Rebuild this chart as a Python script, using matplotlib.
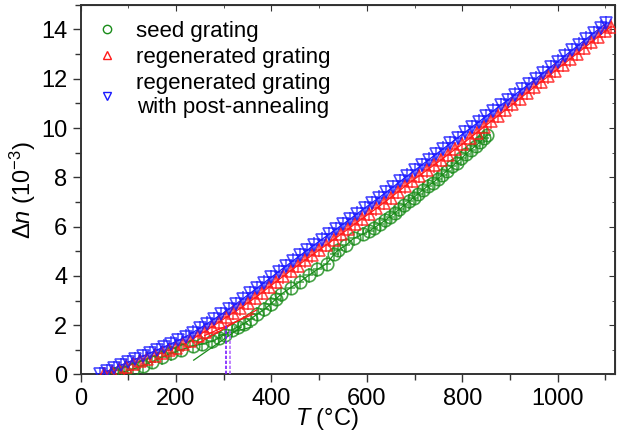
import numpy as np
import matplotlib
matplotlib.use('Agg')
import matplotlib.pyplot as plt
from matplotlib.lines import Line2D
from matplotlib.ticker import MultipleLocator

plt.rcParams['font.family'] = ['Liberation Sans', 'DejaVu Sans']
plt.rcParams['mathtext.fontset'] = 'custom'
plt.rcParams['mathtext.rm'] = 'Liberation Sans'
plt.rcParams['mathtext.it'] = 'Liberation Sans:italic'

# seed grating
seed_T = [72, 90, 110, 130, 150, 170, 190, 210, 235, 255, 275, 290, 302, 318, 330,
          342, 357, 370, 385, 398, 410, 420, 440, 460, 478, 496, 516, 532, 540, 556,
          572, 592, 605, 615, 627, 638, 648, 658, 668, 678, 688, 698, 708, 718, 728,
          738, 748, 758, 768, 778, 788, 798, 808, 818, 828, 838, 846, 852]
seed_dn = [0.00, 0.10, 0.22, 0.36, 0.52, 0.70, 0.86, 1.00, 1.15, 1.24, 1.34, 1.48, 1.62, 1.82, 1.92,
           2.06, 2.25, 2.45, 2.64, 2.85, 3.08, 3.25, 3.52, 3.77, 4.02, 4.26, 4.50, 4.90, 5.05, 5.24,
           5.52, 5.70, 5.82, 5.95, 6.10, 6.25, 6.40, 6.55, 6.70, 6.86, 7.02, 7.18, 7.34, 7.50, 7.65,
           7.78, 7.93, 8.10, 8.27, 8.44, 8.60, 8.77, 8.95, 9.12, 9.28, 9.45, 9.60, 9.72]

# regenerated grating
regen_T = [50, 65, 80, 95, 110, 125, 140, 155, 170, 185, 200, 215, 230, 245, 260, 275,
           290, 305, 320, 335, 350, 365, 380, 395, 410, 425, 440, 455, 470, 485, 500,
           515, 530, 545, 560, 575, 590, 605, 620, 635, 650, 665, 680, 695, 710, 725,
           740, 755, 770, 785, 800, 815, 830, 845, 860, 875, 890, 905, 920, 935, 950,
           965, 980, 995, 1010, 1025, 1040, 1055, 1070, 1085, 1100, 1112]
regen_dn = [0.00, 0.10, 0.20, 0.31, 0.42, 0.53, 0.64, 0.76, 0.87, 0.98, 1.09, 1.22, 1.37, 1.56, 1.74, 1.93,
            2.12, 2.32, 2.50, 2.69, 2.90, 3.10, 3.32, 3.55, 3.77, 3.99, 4.21, 4.42, 4.63, 4.84, 5.05,
            5.26, 5.47, 5.68, 5.89, 6.11, 6.32, 6.53, 6.74, 6.96, 7.18, 7.41, 7.64, 7.86, 8.07, 8.28,
            8.49, 8.70, 8.92, 9.14, 9.35, 9.58, 9.81, 10.04, 10.27, 10.50, 10.73, 10.96, 11.19, 11.42, 11.65,
            11.88, 12.10, 12.33, 12.56, 12.79, 13.02, 13.25, 13.48, 13.71, 13.94, 14.12]

# regenerated grating with post-annealing
post_T = [40, 55, 70, 85, 100, 115, 130, 145, 160, 175, 190, 205, 220, 235, 250, 265,
          280, 295, 310, 325, 340, 355, 370, 385, 400, 415, 430, 445, 460, 475, 490,
          505, 520, 535, 550, 565, 580, 595, 610, 625, 640, 655, 670, 685, 700, 715,
          730, 745, 760, 775, 790, 805, 820, 835, 850, 865, 880, 895, 910, 925, 940,
          955, 970, 985, 1000, 1015, 1030, 1045, 1060, 1075, 1090, 1101]
post_dn = [0.00, 0.12, 0.25, 0.38, 0.50, 0.62, 0.74, 0.87, 0.99, 1.12, 1.25, 1.38, 1.53, 1.70, 1.88, 2.06,
           2.25, 2.44, 2.64, 2.85, 3.07, 3.29, 3.51, 3.73, 3.95, 4.17, 4.39, 4.61, 4.83, 5.04, 5.26,
           5.47, 5.68, 5.89, 6.10, 6.31, 6.53, 6.74, 6.96, 7.17, 7.39, 7.61, 7.84, 8.06, 8.28, 8.50,
           8.72, 8.94, 9.16, 9.38, 9.60, 9.82, 10.04, 10.26, 10.48, 10.70, 10.92, 11.13, 11.35, 11.57, 11.79,
           12.01, 12.24, 12.47, 12.70, 12.93, 13.16, 13.39, 13.62, 13.85, 14.08, 14.25]

# tangent lines near the transition
seed_fit_low_T = [290, 360]
seed_fit_low_dn = [1.58, 1.93]
seed_fit_high_T = [237, 335]
seed_fit_high_dn = [0.58, 1.90]
regen_fit_a_T = [243, 369]
regen_fit_a_dn = [1.22, 2.62]
regen_fit_b_T = [260, 362]
regen_fit_b_dn = [1.58, 2.45]
# transition temperatures
trans_T = [304, 313]
trans_dn = [2.04, 1.80]

fig = plt.figure(figsize=(6.2, 4.4), dpi=100)
ax = fig.add_axes([0.130, 0.149, 0.862, 0.840])

series = [
    (seed_T, seed_dn, 'o', '#1a8c1a', 9),
    (regen_T, regen_dn, '^', '#ff1a1a', 9),
    (post_T, post_dn, 'v', '#1a1aff', 9),
]
for T, dn, m, c, ms in series:
    ax.plot(T, dn, color=c, lw=0.9, zorder=2)
    ax.errorbar(T, dn, xerr=9, yerr=0.3, fmt=m, ms=ms, mfc='none', mec=c, mew=1.2,
                ecolor=c, elinewidth=1.1, capsize=0, alpha=0.8, zorder=3)

ax.plot(seed_fit_low_T, seed_fit_low_dn, color='#1a8c1a', lw=0.9, zorder=4)
ax.plot(seed_fit_high_T, seed_fit_high_dn, color='#1a8c1a', lw=0.9, zorder=4)
ax.plot(regen_fit_a_T, regen_fit_a_dn, color='#ff1a1a', lw=0.9, zorder=4)
ax.plot(regen_fit_b_T, regen_fit_b_dn, color='#ff1a1a', lw=0.9, zorder=4)
ax.vlines(trans_T[0], 0, trans_dn[0], colors='#7a1aff', linestyles=(0, (2, 1)), lw=1.2, zorder=5)
ax.vlines(trans_T[1], 0, trans_dn[1], colors='#b36bff', linestyles=(0, (2, 1)), lw=1.2, zorder=5)

ax.set_xlim(0, 1120)
ax.set_ylim(0, 15)
ax.xaxis.set_major_locator(MultipleLocator(200))
ax.xaxis.set_minor_locator(MultipleLocator(100))
ax.yaxis.set_major_locator(MultipleLocator(2))
ax.yaxis.set_minor_locator(MultipleLocator(1))
ax.tick_params(which='both', direction='out', labelsize=17, width=1.0, color='#333333')
ax.tick_params(which='major', length=6)
ax.tick_params(which='minor', length=4)
for s in ax.spines.values():
    s.set_linewidth(1.4)
    s.set_color('#333333')

top = ax.secondary_xaxis('top')
top.xaxis.set_major_locator(MultipleLocator(200))
top.xaxis.set_minor_locator(MultipleLocator(100))
top.tick_params(which='both', direction='in', labeltop=False, color='#333333')
top.tick_params(which='major', length=4)
top.tick_params(which='minor', length=2)
right = ax.secondary_yaxis('right')
right.yaxis.set_major_locator(MultipleLocator(2))
right.yaxis.set_minor_locator(MultipleLocator(1))
right.tick_params(which='both', direction='in', labelright=False, color='#333333')
right.tick_params(which='major', length=4)
right.tick_params(which='minor', length=2)

ax.set_xlabel(r'$T$ (°C)', fontsize=17, labelpad=-2)
ax.xaxis.set_label_coords(0.46, -0.085)
ax.set_ylabel(r'$\mathit{\Delta n}$ (10$^{-3}$)', fontsize=17, labelpad=2)

handles = [
    Line2D([], [], marker='o', ls='none', ms=6, mfc='none', mec='#1a8c1a', mew=1.0),
    Line2D([], [], marker='^', ls='none', ms=6, mfc='none', mec='#ff1a1a', mew=1.0),
    Line2D([], [], marker='v', ls='none', ms=6, mfc='none', mec='#1a1aff', mew=1.0),
]
labels = ['seed grating', 'regenerated grating', 'regenerated grating\nwith post-annealing']
leg = ax.legend(handles, labels, loc='upper left', bbox_to_anchor=(0.0, 0.992),
                frameon=False, fontsize=16, handletextpad=0.7, labelspacing=0.22,
                handlelength=1.2, borderaxespad=0.2)
for t in leg.get_texts():
    t.set_multialignment('center')

fig.savefig('out.png', dpi=100)
